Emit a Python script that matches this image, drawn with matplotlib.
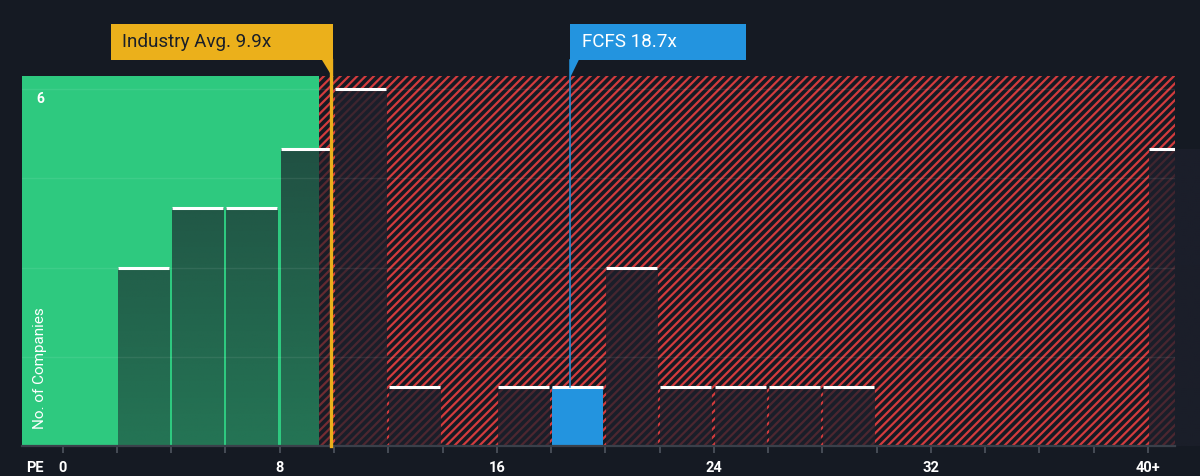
import numpy as np
import matplotlib
matplotlib.use("Agg")
import matplotlib.pyplot as plt
from matplotlib.patches import Rectangle, Polygon
import matplotlib.transforms as mtransforms

# ---- data ----
bin_left = [2, 4, 6, 8, 10, 12, 16, 18, 20, 22, 24, 26, 28, 40]
counts = [3, 4, 4, 5, 6, 1, 1, 1, 3, 1, 1, 1, 1, 5]
highlight_bin = 18
tick_values = [0, 8, 16, 24, 32, 40]
tick_labels = ["0", "8", "16", "24", "32", "40+"]
industry_avg = 9.9
company_pe = 18.7
company_name = "FCFS"
y_label_value = 6

# ---- style ----
BG = "#151a23"
GREEN = "#2ec97f"
RED = "#d23b3d"
ORANGE = "#ebb01b"
BLUE = "#2394df"
DARK = "#1b1f2a"
DARK_RED_ZONE = "#1d202c"

plt.rcParams['font.family'] = ['Roboto', 'DejaVu Sans']
plt.rcParams['hatch.linewidth'] = 1.6
plt.rcParams['hatch.color'] = RED

fig = plt.figure(figsize=(12, 4.76), dpi=100, facecolor=BG)
W, H = 1200, 476
ax = fig.add_axes([22 / W, 30 / H, (1175 - 22) / W, 370 / H])
ax.set_facecolor(BG)
XMIN, XMAX = -1.5, 41.0
YMAX = 6.22
ax.set_xlim(XMIN, XMAX)
ax.set_ylim(0, YMAX)

green_end = 9.45
# green region
ax.add_patch(Rectangle((XMIN, 0), green_end - XMIN, YMAX, facecolor=GREEN,
                       edgecolor='none', zorder=0))
# hatched red region
ax.add_patch(Rectangle((green_end, 0), XMAX - green_end, YMAX, facecolor='none',
                       edgecolor=RED, hatch='////', linewidth=0, zorder=0.5))


def gradient(color, a0, a1):
    ny = 200
    yy = np.linspace(0, YMAX, ny)
    alpha = a0 + (a1 - a0) * yy / 6.0
    rgb = matplotlib.colors.to_rgb(color)
    g = np.zeros((ny, 2, 4))
    g[..., 0] = rgb[0]
    g[..., 1] = rgb[1]
    g[..., 2] = rgb[2]
    g[..., 3] = np.clip(alpha, 0, 1)[:, None]
    return g


grad_green = gradient(DARK, 0.50, 0.75)
grad_red = gradient(DARK_RED_ZONE, 0.74, 0.82)

bar_w = 1.88
bars = ax.bar([b + 0.03 for b in bin_left], counts, width=bar_w, align='edge',
              color='none', edgecolor='none', zorder=2)
for b, c, p in zip(bin_left, counts, bars.patches):
    x0 = b + 0.03
    if b == highlight_bin:
        p.set_facecolor(BLUE)
        p.set_zorder(2)
    else:
        g = grad_green if b < green_end else grad_red
        im = ax.imshow(g, extent=(x0, x0 + bar_w, 0, YMAX), origin='lower',
                       aspect='auto', interpolation='bilinear', zorder=2)
        im.set_clip_path(p)
    ax.plot([x0, x0 + bar_w], [c, c], color='white', lw=2.2,
            solid_capstyle='butt', zorder=4)

ax.set_xlim(XMIN, XMAX)
ax.set_ylim(0, YMAX)

# gridlines
for gy in [1.5, 3, 4.5, 6]:
    ax.axhline(gy, color='white', alpha=0.08, lw=1, zorder=3)

# axes styling
for s in ['top', 'right', 'left']:
    ax.spines[s].set_visible(False)
ax.spines['bottom'].set_color('#3a404a')
ax.spines['bottom'].set_linewidth(1.6)
ax.spines['bottom'].set_zorder(5)
ax.set_yticks([])
ax.set_xticks(tick_values)
ax.set_xticklabels(tick_labels)
ax.set_xticks(np.arange(0, 41, 2), minor=True)
ax.tick_params(axis='x', which='both', length=5, width=1.3, color='#4a505a',
               labelcolor='white', labelsize=10.5, pad=6)
for t in ax.get_xticklabels():
    t.set_fontweight('bold')

blend = mtransforms.blended_transform_factory(ax.transData, ax.transAxes)
blend_ay = mtransforms.blended_transform_factory(ax.transAxes, ax.transData)
# "PE" label
ax.text(-1.5 + (35 - 22) / 27.14, -22 / 370, "PE", transform=blend, color='white',
        fontsize=10.5, fontweight='bold', ha='center', va='center')
# y labels
ax.text(0.0156, 5.83, str(y_label_value), transform=blend_ay,
        color='white', fontsize=10, fontweight='bold', ha='center', va='center', zorder=6)
ax.text(0.0156, 1.31, "No. of Companies", transform=blend_ay,
        color='white', fontsize=11, rotation=90, ha='center', va='center', zorder=6)

# industry average line and box
yb0, yb1 = (446 - 60) / 370, (446 - 24) / 370
ax.plot([industry_avg, industry_avg], [0, yb0], transform=blend, color=ORANGE, lw=2.4,
        clip_on=False, zorder=6)
box_l = 1.79
box_r = industry_avg + 0.08
ax.add_patch(Rectangle((box_l, yb0), box_r - box_l, yb1 - yb0, transform=blend,
                       facecolor=ORANGE, edgecolor='none', clip_on=False, zorder=6))
ax.add_patch(Polygon([(box_r - 0.42, yb0 + 0.001), (box_r, yb0 + 0.001), (box_r, 0.995)],
                     closed=True, transform=blend, facecolor=ORANGE, edgecolor='none',
                     clip_on=False, zorder=6))
ax.text(2.2, (yb0 + yb1) / 2, f"Industry Avg. {industry_avg}x", transform=blend,
        color='#1b2029', fontsize=13.6, ha='left', va='center', zorder=7)

# company line and box
ax.plot([company_pe, company_pe], [1 / YMAX, yb0], transform=blend, color=BLUE, lw=1.1,
        clip_on=False, zorder=6)
cb_l = company_pe
cb_r = company_pe + 6.48
ax.add_patch(Rectangle((cb_l, yb0), cb_r - cb_l, yb1 - yb0, transform=blend,
                       facecolor=BLUE, edgecolor='none', clip_on=False, zorder=6))
ax.add_patch(Polygon([(cb_l, yb0 + 0.001), (cb_l + 0.33, yb0 + 0.001), (cb_l, 0.995)],
                     closed=True, transform=blend, facecolor=BLUE, edgecolor='none',
                     clip_on=False, zorder=6))
ax.text(cb_l + 0.45, (yb0 + yb1) / 2, f"{company_name} {company_pe}x", transform=blend,
        color='white', fontsize=13.6, ha='left', va='center', zorder=7)

fig.savefig("out.png", dpi=100, facecolor=BG)
